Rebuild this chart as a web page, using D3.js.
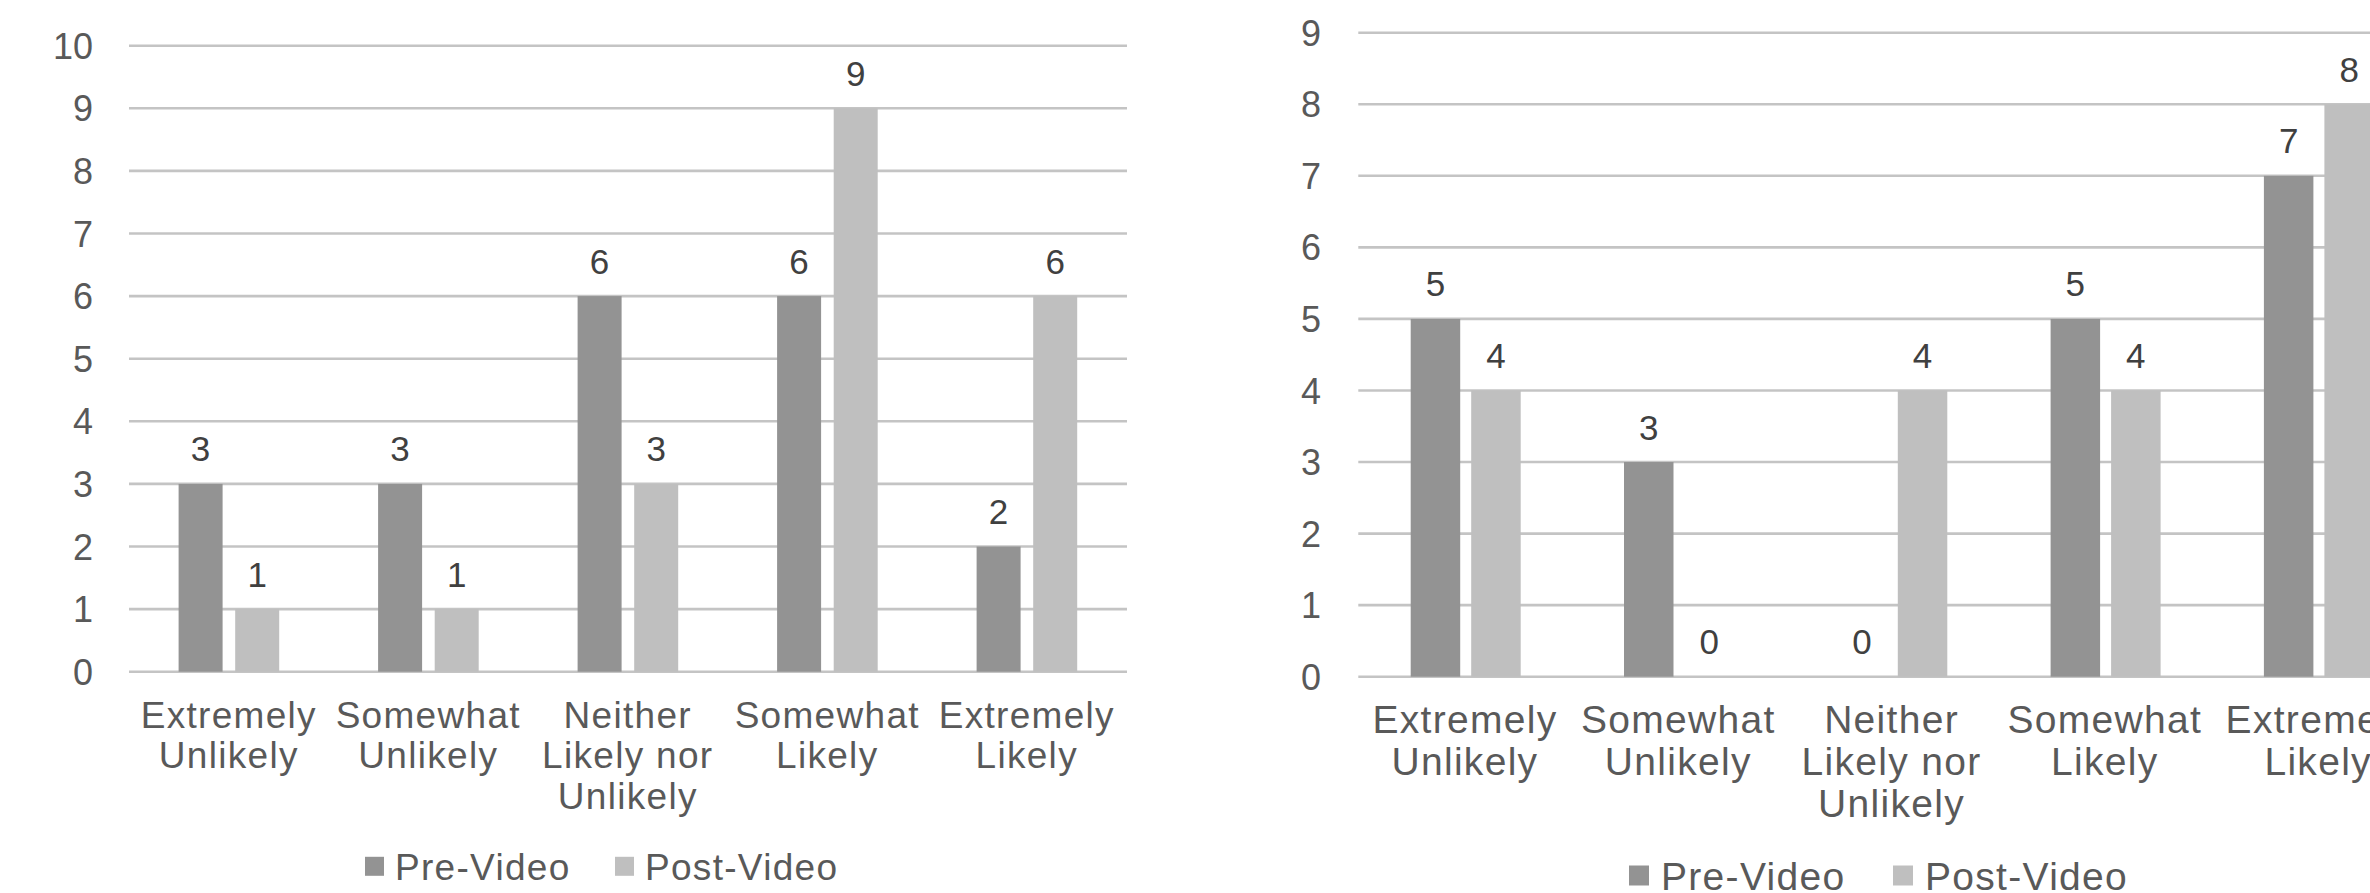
<!DOCTYPE html>
<html>
<head>
<meta charset="utf-8">
<script src="https://cdn.jsdelivr.net/npm/d3@7"></script>
<style>
  html, body { margin: 0; padding: 0; background: #fff; }
  svg { display: block; }
  text { font-family: "Liberation Sans", Arial, sans-serif; }
</style>
</head>
<body>
<svg id="chart" width="2370" height="893"></svg>
<script>
// ---- data ----
const categories = [
  "Extremely Unlikely",
  "Somewhat Unlikely",
  "Neither Likely nor Unlikely",
  "Somewhat Likely",
  "Extremely Likely"
];
const categoryLines = [
  ["Extremely", "Unlikely"],
  ["Somewhat", "Unlikely"],
  ["Neither", "Likely nor", "Unlikely"],
  ["Somewhat", "Likely"],
  ["Extremely", "Likely"]
];
const seriesNames = ["Pre-Video", "Post-Video"];
const leftPre = [3, 3, 6, 6, 2];
const leftPost = [1, 1, 3, 9, 6];
const rightPre = [5, 3, 0, 5, 7];
const rightPost = [4, 0, 4, 4, 8];
const leftTicks = [0, 1, 2, 3, 4, 5, 6, 7, 8, 9, 10];
const rightTicks = [0, 1, 2, 3, 4, 5, 6, 7, 8, 9];

const colors = { "Pre-Video": "#939393", "Post-Video": "#bfbfbf" };

const svg = d3.select("#chart");
svg.append("rect").attr("width", 2370).attr("height", 893).attr("fill", "#fff");

function drawChart(cfg, pre, post, ticks) {
  const g = svg.append("g");
  const y = d3.scaleLinear().domain([0, ticks[ticks.length - 1]]).range([cfg.y0, cfg.yTop]);
  const x = d3.scaleBand().domain(categories)
    .range([cfg.x0, cfg.x0 + cfg.band * categories.length]).paddingInner(0).paddingOuter(0);
  const groupW = 2 * cfg.barW + cfg.gap;
  const x1 = d3.scaleBand().domain(seriesNames)
    .range([cfg.off, cfg.off + groupW])
    .paddingInner(cfg.gap / (cfg.barW + cfg.gap)).paddingOuter(0);

  // gridlines
  const yAxis = d3.axisLeft(y).tickValues(ticks).tickSize(0).tickPadding(0).tickFormat(d3.format("d"));
  g.selectAll("line.grid").data(ticks).enter().append("line")
    .attr("x1", cfg.x0).attr("x2", cfg.gridEnd)
    .attr("y1", d => y(d)).attr("y2", d => y(d))
    .attr("stroke", "#c4c4c4").attr("stroke-width", 2.6);

  // tick labels via axis
  const ax = g.append("g").attr("transform", `translate(${cfg.tickRight},0)`).call(yAxis);
  ax.select(".domain").remove();
  ax.selectAll("text")
    .attr("font-size", cfg.tickFont).attr("fill", "#595959")
    .attr("x", 0).attr("dy", "0.35em")
    .style("font-family", '"Liberation Sans", Arial, sans-serif');

  // bars
  const rows = categories.map((c, i) => ({ c, vals: [
    { s: "Pre-Video", v: pre[i] }, { s: "Post-Video", v: post[i] } ] }));
  const grp = g.selectAll("g.cat").data(rows).enter().append("g")
    .attr("transform", d => `translate(${x(d.c)},0)`);
  grp.selectAll("rect").data(d => d.vals).enter().append("rect")
    .attr("x", d => x1(d.s)).attr("width", x1.bandwidth())
    .attr("y", d => y(d.v)).attr("height", d => y(0) - y(d.v))
    .attr("fill", d => colors[d.s]);
  grp.selectAll("text.val").data(d => d.vals).enter().append("text")
    .attr("class", "val")
    .attr("x", d => x1(d.s) + x1.bandwidth() / 2)
    .attr("y", d => y(d.v) - cfg.labelGap)
    .attr("text-anchor", "middle")
    .attr("font-size", cfg.valFont).attr("fill", "#404040")
    .text(d => d.v);

  // category labels
  categoryLines.forEach((lines, i) => {
    const t = g.append("text")
      .attr("text-anchor", "middle")
      .attr("font-size", cfg.catFont).attr("fill", "#595959")
      .style("letter-spacing", cfg.ls + "px");
    lines.forEach((ln, j) => {
      t.append("tspan")
        .attr("x", x(categories[i]) + cfg.band / 2)
        .attr("y", cfg.catY + j * cfg.catLH)
        .text(ln);
    });
  });

  // legend
  seriesNames.forEach((s, k) => {
    const lx = cfg.legX[k];
    g.append("rect").attr("x", lx).attr("y", cfg.legY - cfg.legSq / 2)
      .attr("width", cfg.legSq).attr("height", cfg.legSq).attr("fill", colors[s]);
    g.append("text").attr("x", lx + cfg.legSq + cfg.legPad).attr("y", cfg.legY)
      .attr("dy", "0.36em").attr("font-size", cfg.legFont).attr("fill", "#595959")
      .style("letter-spacing", cfg.ls + "px")
      .text(s);
  });
}

drawChart({
  x0: 129, gridEnd: 1127, band: 199.5, yTop: 45.7, y0: 671.7,
  off: 49.6, barW: 44, gap: 12.6,
  tickRight: 93, tickFont: 36, valFont: 35, labelGap: 22.5,
  catFont: 37, catY: 727.5, catLH: 40.5, ls: 1.3,
  legX: [365, 615], legY: 866.3, legSq: 19, legPad: 11, legFont: 37
}, leftPre, leftPost, leftTicks);

drawChart({
  x0: 1358.3, gridEnd: 2440, band: 213.3, yTop: 32.7, y0: 676.7,
  off: 52.4, barW: 49.5, gap: 11,
  tickRight: 1321, tickFont: 36, valFont: 35, labelGap: 22.5,
  catFont: 39, catY: 733.3, catLH: 41.7, ls: 1.3,
  legX: [1629, 1893], legY: 875.5, legSq: 20, legPad: 12, legFont: 39
}, rightPre, rightPost, rightTicks);
</script>
</body>
</html>
